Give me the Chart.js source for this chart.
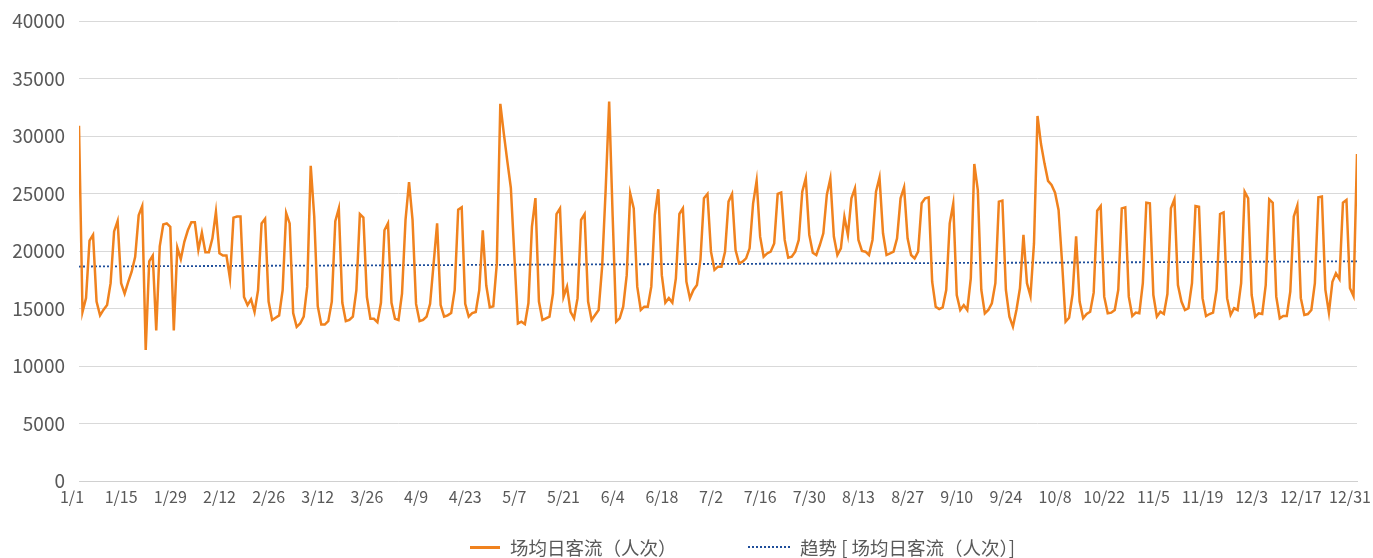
<!DOCTYPE html>
<html>
<head>
<meta charset="utf-8">
<script src="https://cdn.jsdelivr.net/npm/chart.js@4.4.1/dist/chart.umd.min.js"></script>
<style>
    body { margin: 0; background: #fff; }
    #wrap { position: relative; width: 1373px; height: 558px; }
    .legend-item { position: absolute; top: 535px; height: 24px; display: flex; align-items: center;
        font: 18.5px 'Noto Sans CJK SC', 'Noto Sans', sans-serif; color: #595959; white-space: nowrap; }
    .legend-line { display: inline-block; margin-right: 10px; }
</style>
</head>
<body>
<div id="wrap">
    <canvas id="chart" width="1373" height="558"></canvas>
    <div id="legend"></div>
</div>
<script>
// 1/1 ... 12/31, one value per day
const tickLabels = ['1/1', '1/15', '1/29', '2/12', '2/26', '3/12', '3/26', '4/9', '4/23', '5/7', '5/21', '6/4', '6/18',
    '7/2', '7/16', '7/30', '8/13', '8/27', '9/10', '9/24', '10/8', '10/22', '11/5', '11/19', '12/3', '12/17', '12/31'];

const visitors = [
    30900, 14700, 15900, 20900, 21400, 15600, 14400, 14900, 15300, 17200, 21700, 22600, 17200, 16300,
    17300, 18200, 19500, 23100, 23900, 11400, 19100, 19600, 13100, 20400, 22300, 22400, 22100, 13100,
    20300, 19300, 20800, 21800, 22500, 22500, 20100, 21600, 19900, 19900, 21100, 23400, 19800, 19600,
    19600, 17600, 22900, 23000, 23000, 16000, 15300, 15800, 14700, 16600, 22400, 22800, 15600, 14000,
    14200, 14400, 16600, 23300, 22400, 14600, 13400, 13700, 14300, 16900, 27400, 23000, 15200, 13600,
    13600, 13900, 15600, 22600, 23700, 15500, 13900, 14000, 14300, 16600, 23200, 22900, 16000, 14100,
    14100, 13800, 15500, 21800, 22400, 15500, 14100, 14000, 16300, 22700, 26000, 22700, 15400, 13900,
    14000, 14300, 15400, 18900, 22400, 15300, 14300, 14400, 14600, 16600, 23600, 23800, 15400, 14300,
    14600, 14700, 16600, 21800, 17000, 15100, 15200, 18900, 32800, 30200, 27800, 25500, 19600, 13700,
    13850, 13640, 15450, 22100, 24600, 15600, 14000, 14150, 14300, 16300, 23200, 23700, 16000, 16900,
    14700, 14150, 15900, 22700, 23200, 15600, 14000, 14440, 14870, 18640, 25300, 33000, 23000, 13850,
    14150, 15160, 17900, 25000, 23700, 16900, 14870, 15160, 15160, 16900, 23130, 25370, 17900, 15510,
    15900, 15510, 17620, 23220, 23710, 17330, 15900, 16610, 17040, 19240, 24580, 24960, 19940, 18360,
    18640, 18640, 19940, 24290, 24960, 20090, 18930, 19070, 19360, 20230, 24150, 26110, 21250, 19500,
    19790, 19940, 20660, 24960, 25080, 20960, 19420, 19500, 19940, 20960, 25160, 26330, 21400, 19850,
    19650, 20520, 21540, 24900, 26300, 21260, 19650, 20230, 22980, 21400, 24580, 25450, 20960, 20000,
    19940, 19650, 20960, 25160, 26400, 21540, 19650, 19790, 19940, 21100, 24580, 25540, 21100, 19650,
    19360, 19940, 24150, 24580, 24670, 17330, 15160, 14950, 15100, 16610, 22410, 24120, 16170, 14870,
    15300, 14870, 17620, 27570, 25300, 16610, 14580, 14870, 15450, 17200, 24290, 24380, 16610, 14290,
    13420, 14870, 16760, 21400, 17200, 16080, 20660, 31740, 29300, 27600, 26100, 25740, 25070, 23570,
    19000, 13850, 14200, 16260, 21280, 15600, 14150, 14520, 14720, 16380, 23500, 23910, 16030, 14580,
    14640, 14870, 16610, 23710, 23800, 16030, 14350, 14640, 14580, 17200, 24200, 24150, 16170, 14290,
    14720, 14520, 16260, 23710, 24490, 17040, 15600, 14870, 15020, 17200, 23910, 23850, 15900, 14350,
    14520, 14640, 16610, 23220, 23360, 15900, 14440, 15020, 14870, 17200, 25160, 24580, 16170, 14290,
    14580, 14520, 17040, 24490, 24200, 16030, 14150, 14350, 14350, 16460, 23000, 23940, 15900, 14440,
    14520, 14870, 17200, 24670, 24730, 16610, 14640, 17330, 18060, 17560, 24200, 24430, 16760, 16080,
    28440
];

// linear trend line, value at 1/1 and at 12/31
const trendEnds = [18650, 19100];

const seriesNames = ['场均日客流（人次）', '趋势 [ 场均日客流（人次）]'];

const orange = '#F0821E';
const blue = '#1F4E9A';
const gray = '#595959';

Chart.defaults.font.family = "'Noto Sans CJK SC', 'Noto Sans', sans-serif";
Chart.defaults.color = gray;

const lastDay = visitors.length - 1;

const ctx = document.getElementById('chart').getContext('2d');
const chart = new Chart(ctx, {
    type: 'line',
    data: {
        datasets: [{
            label: seriesNames[0],
            data: visitors.map((v, i) => ({ x: i, y: v })),
            borderColor: orange,
            backgroundColor: orange,
            borderWidth: 2.5,
            pointRadius: 0,
            tension: 0
        }, {
            label: seriesNames[1],
            data: [{ x: 0, y: trendEnds[0] }, { x: lastDay, y: trendEnds[1] }],
            borderColor: blue,
            backgroundColor: blue,
            borderWidth: 1.8,
            borderDash: [2, 2],
            pointRadius: 0
        }]
    },
    options: {
        responsive: false,
        animation: false,
        layout: { padding: { top: 21, right: 16, bottom: 47, left: 1 } },
        plugins: {
            legend: { display: false },
            tooltip: { enabled: false }
        },
        scales: {
            x: {
                type: 'linear',
                min: 0,
                max: lastDay,
                grid: { display: false, drawTicks: false },
                border: { display: true, color: '#D0D0D0', width: 1 },
                ticks: {
                    stepSize: 14,
                    maxTicksLimit: 40,
                    autoSkip: false,
                    maxRotation: 0,
                    minRotation: 0,
                    padding: 6,
                    labelOffset: -7,
                    font: { size: 16 },
                    callback: (value) => value % 14 === 0 ? tickLabels[value / 14] : ''
                },
                afterFit: (scale) => {
                    scale.height = 30;
                    scale.paddingLeft = 0;
                    scale.paddingRight = 0;
                }
            },
            y: {
                min: 0,
                max: 40000,
                grid: { color: '#D9D9D9', lineWidth: 1, drawTicks: false },
                border: { display: false },
                ticks: {
                    stepSize: 5000,
                    padding: 14,
                    font: { size: 19 },
                    callback: (value) => String(value)
                },
                afterFit: (scale) => {
                    scale.width = 78;
                    scale.paddingTop = 0;
                    scale.paddingBottom = 0;
                }
            }
        }
    }
});

// legend built from the chart's datasets
const legendLeft = [470, 748];
const legendEl = document.getElementById('legend');
chart.data.datasets.forEach((ds, i) => {
    const item = document.createElement('div');
    item.className = 'legend-item';
    item.style.left = legendLeft[i] + 'px';
    const line = document.createElement('span');
    line.className = 'legend-line';
    line.style.width = i === 0 ? '30px' : '42px';
    line.style.borderTop = i === 0 ? `3px solid ${ds.borderColor}` : `2px dotted ${ds.borderColor}`;
    const text = document.createElement('span');
    text.textContent = ds.label;
    item.appendChild(line);
    item.appendChild(text);
    legendEl.appendChild(item);
});
</script>
</body>
</html>
